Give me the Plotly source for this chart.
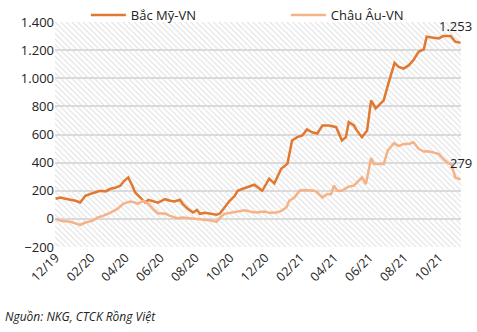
import plotly.graph_objects as go

# ---- data ----
na_dates = ["2019-12-01","2019-12-10","2019-12-18","2019-12-27","2020-01-05","2020-01-13","2020-01-22","2020-01-31",
            "2020-02-08","2020-02-17","2020-02-26","2020-03-06","2020-03-14","2020-03-23","2020-03-30","2020-04-06",
            "2020-04-13","2020-04-18","2020-04-27","2020-05-05","2020-05-11","2020-05-19","2020-05-28","2020-06-04",
            "2020-06-09","2020-06-18","2020-06-26","2020-07-05","2020-07-10","2020-07-19","2020-07-28","2020-08-04",
            "2020-08-09","2020-08-18","2020-08-26","2020-09-07","2020-09-13","2020-09-21","2020-09-30","2020-10-09",
            "2020-10-14","2020-10-23","2020-11-04","2020-11-12","2020-11-26","2020-12-08","2020-12-17","2020-12-29",
            "2021-01-09","2021-01-17","2021-01-26","2021-02-04","2021-02-12","2021-02-21","2021-03-02","2021-03-11",
            "2021-03-23","2021-04-04","2021-04-14","2021-04-21","2021-04-26","2021-05-05","2021-05-10","2021-05-19",
            "2021-05-28","2021-06-04","2021-06-12","2021-06-21","2021-06-26","2021-07-05","2021-07-15","2021-07-22",
            "2021-07-31","2021-08-09","2021-08-17","2021-08-26","2021-09-04","2021-09-09","2021-09-21","2021-09-30",
            "2021-10-08","2021-10-21","2021-10-29","2021-11-07"]
na_values = [143,152,143,136,129,117,164,178,
             188,200,195,214,221,236,271,295,
             236,188,152,117,135,125,115,130,
             140,129,124,136,107,71,45,64,
             36,43,36,29,38,81,129,164,
             200,214,229,243,200,286,252,357,
             393,557,581,593,636,616,607,664,
             664,652,557,581,688,664,629,581,
             629,843,786,821,843,974,1109,1081,
             1069,1093,1129,1188,1205,1295,1290,1283,
             1300,1300,1260,1253]

eu_dates = ["2019-12-01","2019-12-10","2019-12-27","2020-01-13","2020-01-22","2020-02-03","2020-02-12","2020-02-22",
            "2020-03-06","2020-03-18","2020-03-28","2020-04-09","2020-04-18","2020-04-23","2020-05-02","2020-05-11",
            "2020-05-19","2020-05-28","2020-06-09","2020-06-18","2020-06-30","2020-07-10","2020-07-22","2020-08-04",
            "2020-08-14","2020-08-26","2020-09-07","2020-09-13","2020-09-21","2020-10-03","2020-10-14","2020-10-26",
            "2020-11-04","2020-11-16","2020-11-30","2020-12-08","2020-12-21","2020-12-29","2021-01-07","2021-01-12",
            "2021-01-21","2021-01-30","2021-02-07","2021-02-16","2021-02-25","2021-03-02","2021-03-11","2021-03-19",
            "2021-03-26","2021-03-31","2021-04-06","2021-04-14","2021-04-26","2021-05-05","2021-05-10","2021-05-19",
            "2021-05-26","2021-06-04","2021-06-09","2021-06-18","2021-06-26","2021-07-03","2021-07-14","2021-07-22",
            "2021-07-31","2021-08-09","2021-08-17","2021-08-26","2021-09-04","2021-09-12","2021-09-21","2021-09-30",
            "2021-10-08","2021-10-17","2021-10-22","2021-10-29","2021-11-07"]
eu_values = [0,-14,-21,-43,-26,-14,9,21,
             45,71,107,124,117,107,129,107,
             71,38,38,21,5,9,5,0,
             -5,-9,-21,9,36,45,57,62,
             52,45,52,43,45,57,81,129,
             152,200,205,200,200,188,152,176,
             176,236,200,200,230,236,259,295,
             248,433,390,390,390,486,538,517,
             533,533,545,498,479,481,469,462,
             426,395,390,295,279]

series_names = ["Bắc Mỹ-VN", "Châu Âu-VN"]
y_ticks = [-200, 0, 200, 400, 600, 800, 1000, 1200, 1400]
source_text = "Nguồn: NKG, CTCK Rồng Việt"

# ---- style ----
C_DARK = "#E0782F"
C_LIGHT = "#F5B287"
FONT = "Open Sans"
X_RANGE = ["2019-11-30", "2021-11-08"]
Y_RANGE = [-200, 1400]

fig = go.Figure()

# hatched plot-area background (transparent base so gridlines show)
fig.add_trace(go.Scatter(
    x=[X_RANGE[0], X_RANGE[1], X_RANGE[1], X_RANGE[0], X_RANGE[0]],
    y=[Y_RANGE[0], Y_RANGE[0], Y_RANGE[1], Y_RANGE[1], Y_RANGE[0]],
    mode="lines", line=dict(width=0, color="rgba(255,255,255,0)"), fill="toself",
    fillcolor="rgba(255,255,255,0)",
    fillpattern=dict(shape="\\", fgcolor="#dedede", bgcolor="rgba(255,255,255,0)", fgopacity=1,
                     size=4, solidity=0.25),
    showlegend=False, hoverinfo="skip"))

fig.add_trace(go.Scatter(x=na_dates, y=na_values, mode="lines", name=series_names[0],
                         line=dict(color=C_DARK, width=2.5)))
fig.add_trace(go.Scatter(x=eu_dates, y=eu_values, mode="lines", name=series_names[1],
                         line=dict(color=C_LIGHT, width=2.5)))

# end labels
fig.add_annotation(x=na_dates[-1], y=na_values[-1], text=f"{na_values[-1]:,}".replace(",", "."),
                   showarrow=False, xanchor="right", yanchor="bottom", xshift=14, yshift=6,
                   font=dict(family=FONT, size=13, color="#222"))
fig.add_annotation(x=eu_dates[-1], y=eu_values[-1], text=f"{eu_values[-1]}",
                   showarrow=False, xanchor="right", yanchor="bottom", xshift=14, yshift=6,
                   font=dict(family=FONT, size=13, color="#222"))

fig.add_annotation(xref="paper", yref="paper", x=-0.128, y=-0.26, xanchor="left", yanchor="top",
                   text=f"<i>{source_text}</i>", showarrow=False,
                   font=dict(family=FONT, size=12, color="#222"))

fig.update_layout(
    width=477, height=332,
    margin=dict(l=55, r=16, t=22, b=85, autoexpand=False),
    paper_bgcolor="white", plot_bgcolor="white",
    separators=",.",
    font=dict(family=FONT, size=13, color="#222"),
    showlegend=True,
    legend=dict(orientation="h", xref="container", yref="container", x=0.18, y=1.0,
                xanchor="left", yanchor="top", entrywidth=150, entrywidthmode="pixels",
                font=dict(family=FONT, size=13, color="#222"), bgcolor="rgba(0,0,0,0)",
                itemwidth=35),
    xaxis=dict(type="date", range=X_RANGE, tick0="2019-12-01", dtick="M2", tickformat="%m/%y",
               tickangle=-45, showgrid=False, zeroline=False, showline=False, ticks="",
               tickfont=dict(family=FONT, size=12.5, color="#222")),
    yaxis=dict(range=Y_RANGE, tickvals=y_ticks, tickformat=",d", showgrid=True,
               gridcolor="#d9d9d9", gridwidth=1.5, zeroline=False, showline=False, ticks="",
               tickfont=dict(family=FONT, size=13, color="#222")),
)

fig.write_html("out.html")
